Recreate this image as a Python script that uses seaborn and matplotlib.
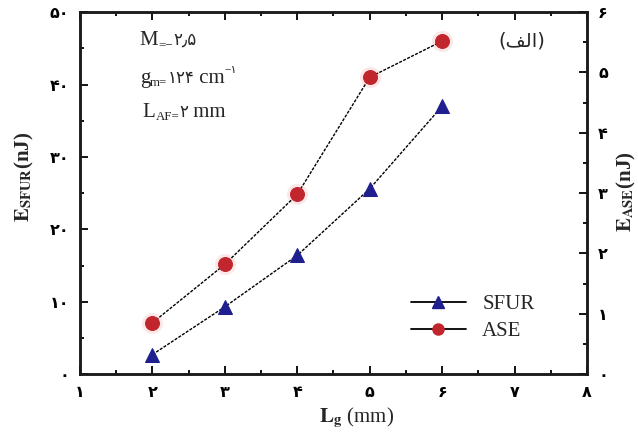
import matplotlib
matplotlib.use("Agg")
import matplotlib.pyplot as plt
import seaborn as sns
import pandas as pd
from matplotlib.lines import Line2D
from matplotlib.transforms import ScaledTranslation
from matplotlib.ticker import FixedLocator, MultipleLocator

# ---- data ----
lg_mm = [2, 3, 4, 5, 6]
e_sfur = [2.7, 9.3, 16.4, 25.6, 37.0]
e_ase = [0.85, 1.82, 2.98, 4.92, 5.52]

x_ticks = [1, 2, 3, 4, 5, 6, 7, 8]
x_tick_labels = ["۱", "۲", "۳", "۴", "۵", "۶", "۷", "۸"]
left_ticks = [0, 10, 20, 30, 40, 50]
left_tick_labels = ["۰", "۱۰", "۲۰", "۳۰", "۴۰", "۵۰"]
right_ticks = [0, 1, 2, 3, 4, 5, 6]
right_tick_labels = ["۰", "۱", "۲", "۳", "۴", "۵", "۶"]

sns.set_style("ticks")
FAM = ["Liberation Serif", "DejaVu Sans"]
plt.rcParams["font.family"] = FAM
plt.rcParams["mathtext.fontset"] = "stix"

fig = plt.figure(figsize=(6.38, 4.34), dpi=100)
ax = fig.add_axes([0.1254, 0.138, 0.7946, 0.834])
ax2 = ax.twinx()

df = pd.DataFrame({"Lg": lg_mm, "SFUR": e_sfur, "ASE": e_ase})

line_kw = dict(color="black", lw=1.0, linestyle=(0, (2.2, 1.0)))
blue = "#1f1f8f"
red = "#c0262c"

# ASE halo + line (right axis)
sns.scatterplot(data=df, x="Lg", y="ASE", ax=ax2, s=230, color="#f6b4b4",
                alpha=0.3, linewidth=0, zorder=1, legend=False)
sns.lineplot(data=df, x="Lg", y="ASE", ax=ax2, marker="o", markersize=10,
             markerfacecolor=red, markeredgecolor=red, zorder=3, **line_kw)
# SFUR line (left axis)
sns.lineplot(data=df, x="Lg", y="SFUR", ax=ax, marker="^", markersize=10,
             markerfacecolor=blue, markeredgecolor=blue, zorder=3, **line_kw)

ax.set_xlim(1, 8)
ax.set_ylim(0, 50)
ax2.set_ylim(0, 6)

ax.xaxis.set_major_locator(FixedLocator(x_ticks))
ax.set_xticklabels(x_tick_labels)
ax.xaxis.set_minor_locator(MultipleLocator(0.5))
ax.yaxis.set_major_locator(FixedLocator(left_ticks))
ax.set_yticklabels(left_tick_labels)
ax.yaxis.set_minor_locator(MultipleLocator(5))
ax2.yaxis.set_major_locator(FixedLocator(right_ticks))
ax2.set_yticklabels(right_tick_labels)
ax2.yaxis.set_minor_locator(MultipleLocator(0.5))

for lab in ax.get_xticklabels() + ax.get_yticklabels() + ax2.get_yticklabels():
    lab.set_fontfamily("DejaVu Sans")
    lab.set_fontweight("bold")
    lab.set_fontsize(11.5)

ax.tick_params(axis="both", which="both", direction="in", top=True, right=False,
               width=1.3, colors="black")
ax.tick_params(axis="both", which="major", length=6, pad=8)
ax.tick_params(axis="both", which="minor", length=3)
ax2.tick_params(axis="y", which="both", direction="in", width=1.3, colors="black")
ax2.tick_params(axis="y", which="major", length=6, pad=8)
ax2.tick_params(axis="y", which="minor", length=3)

for a in (ax, ax2):
    for sp in a.spines.values():
        sp.set_linewidth(1.8)
        sp.set_color("#1a1a1a")

ax.set_xlabel(r"$\mathbf{L}_{\mathbf{g}}$" + " (mm)", fontsize=15, family=FAM)
ax.xaxis.set_label_coords(0.546, -0.085)
ax.set_ylabel(r"$\mathbf{E}_{\mathbf{SFUR}}$" + "(nJ)", fontsize=15,
              fontweight="bold", family=FAM)
ax.yaxis.set_label_coords(-0.087, 0.544)
ax2.set_ylabel(r"$\mathbf{E}_{\mathbf{ASE}}$" + "(nJ)", fontsize=15,
               fontweight="bold", family=FAM)
ax2.yaxis.set_label_coords(1.055, 0.503)

# legend
handles = [
    Line2D([], [], color="black", lw=1.3, marker="^", markersize=9,
           markerfacecolor=blue, markeredgecolor=blue),
    Line2D([], [], color="black", lw=1.3, marker="o", markersize=8,
           markerfacecolor=red, markeredgecolor=red),
]
ax2.legend(handles, ["SFUR", "ASE"], loc="center", bbox_to_anchor=(0.775, 0.155),
           frameon=False, prop={"family": FAM, "size": 15}, handlelength=2.6,
           handletextpad=0.8, labelspacing=0.35)


def rich(a, x, y, parts, fs=15):
    r = fig.canvas.get_renderer()
    cx = x
    for s, kind in parts:
        if kind == "sub":
            size, dy = fs * 0.62, -2.0
        elif kind == "sup":
            size, dy = fs * 0.55, 7.0
        elif kind == "dig":
            size, dy = fs * 0.8, 0.0
        else:
            size, dy = fs, 0.0
        tr = a.transAxes + ScaledTranslation(0, dy / 72, fig.dpi_scale_trans)
        t = a.text(cx, y, s, transform=tr, fontsize=size, va="baseline",
                    ha="left", family=FAM, zorder=5)
        bb = t.get_window_extent(r)
        cx = a.transAxes.inverted().transform((bb.x1, bb.y0))[0]


rich(ax2, 0.118, 0.909, [("M", "n"), ("=−", "sub"), ("۲٫۵", "dig")])
rich(ax2, 0.118, 0.804, [("g", "n"), ("m=", "sub"), ("۱۲۴", "dig"), (" cm", "n"),
                         ("−۱", "sup")])
rich(ax2, 0.124, 0.710, [("L", "n"), ("AF=", "sub"), ("۲", "dig"), (" mm", "n")])

ax2.text(0.872, 0.92, "(\uFED2\uFEDF\uFE8D)", transform=ax2.transAxes, ha="center",
         va="center", fontsize=14, family=["DejaVu Sans"])

fig.savefig("out.png", dpi=100)
